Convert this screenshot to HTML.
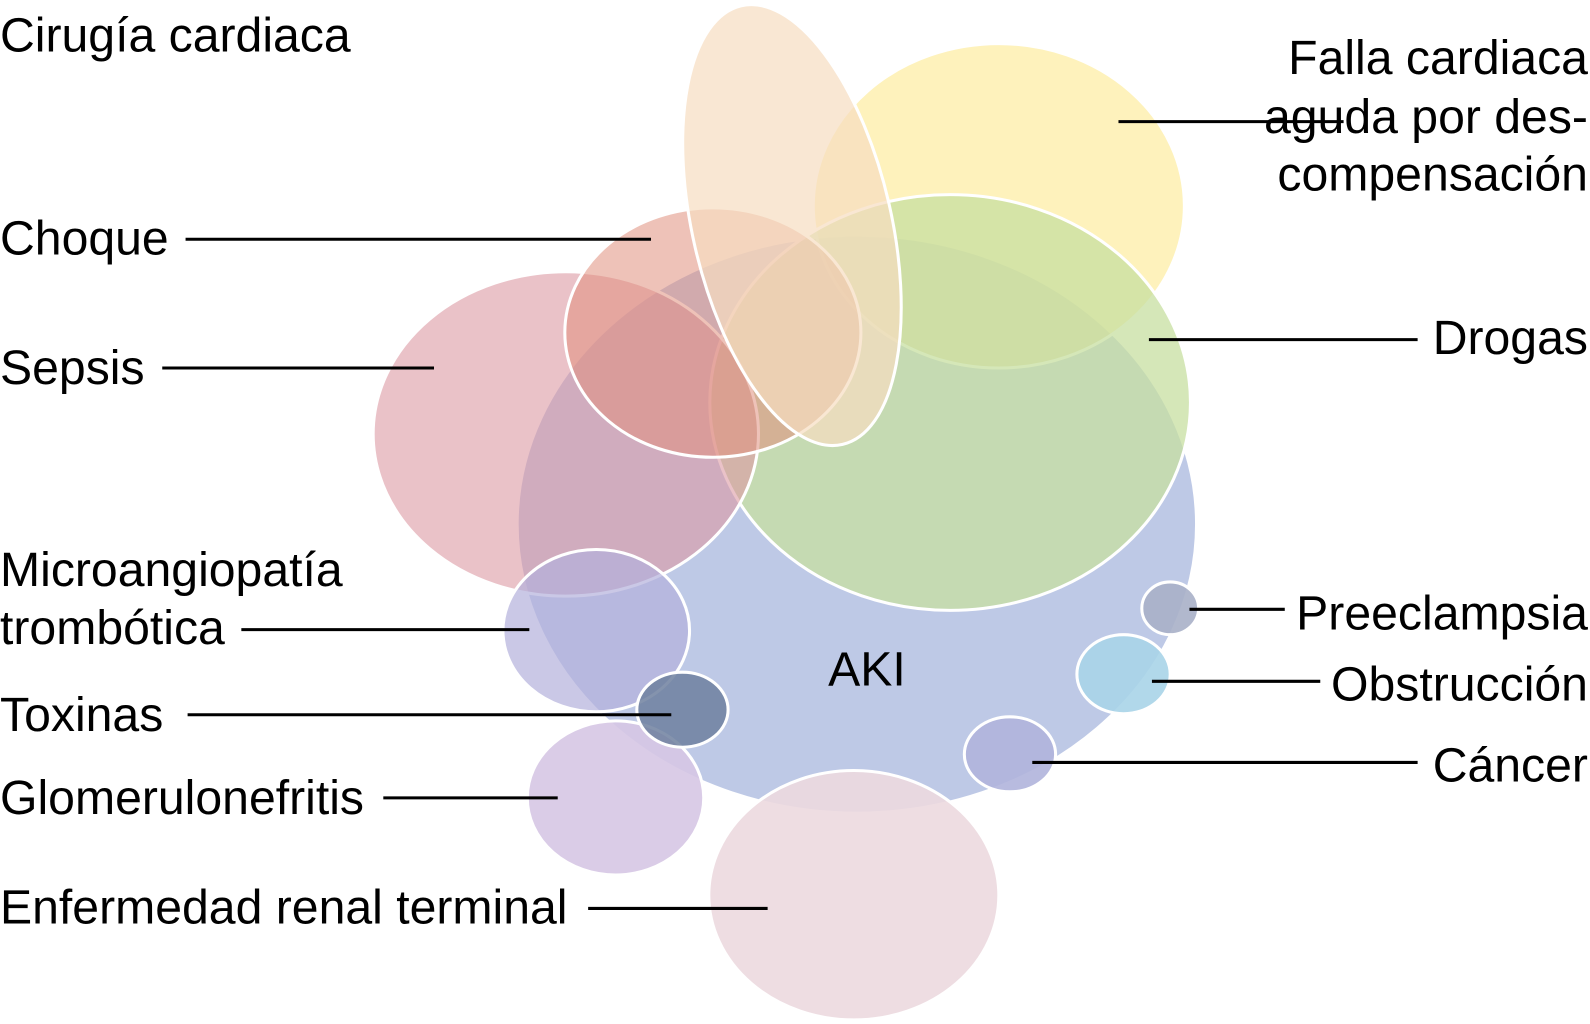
<!DOCTYPE html>
<html><head><meta charset="utf-8"><style>html,body{margin:0;padding:0;background:#fff}svg{display:block}text{font-family:"Liberation Sans",Arial,sans-serif;font-size:47.5px;fill:#000}</style></head>
<body>
<svg width="1590" height="1024" viewBox="0 0 1568 1010" preserveAspectRatio="none" xmlns="http://www.w3.org/2000/svg">
<g stroke="#fff" stroke-width="3">
<ellipse cx="845" cy="517" rx="335" ry="285" fill="#b7c3e3" fill-opacity="0.9"/>
<ellipse cx="985" cy="203" rx="183" ry="160" fill="#fde98f" fill-opacity="0.6"/>
<ellipse cx="937" cy="397" rx="237" ry="205" fill="#c7dfa0" fill-opacity="0.75"/>
<ellipse cx="558" cy="428" rx="190" ry="160" fill="#dc9aa3" fill-opacity="0.6"/>
<ellipse cx="703" cy="328" rx="146" ry="123" fill="#e0907e" fill-opacity="0.55"/>
<ellipse cx="781" cy="222" rx="98" ry="222" transform="rotate(-13 781 222)" fill="#f6ddc0" fill-opacity="0.7"/>
<ellipse cx="588" cy="622" rx="92" ry="80" fill="#b3b0dc" fill-opacity="0.7"/>
<ellipse cx="607" cy="787" rx="87" ry="76" fill="#d6c6e4" fill-opacity="0.9"/>
<ellipse cx="842" cy="883" rx="143" ry="123" fill="#ecd9df" fill-opacity="0.9"/>
<ellipse cx="673" cy="700" rx="45" ry="37" fill="#6f809f" fill-opacity="0.85"/>
<ellipse cx="1154" cy="600" rx="28" ry="26" fill="#a8b0c8" fill-opacity="0.9"/>
<ellipse cx="1108" cy="665" rx="46" ry="39" fill="#a8d4e8" fill-opacity="0.9"/>
<ellipse cx="996" cy="744" rx="45" ry="37" fill="#b0b4dc" fill-opacity="0.9"/>
</g>
<g stroke="#000" stroke-width="3">
<line x1="183" y1="236" x2="642" y2="236"/>
<line x1="160" y1="363" x2="428" y2="363"/>
<line x1="238" y1="621" x2="522" y2="621"/>
<line x1="185" y1="705" x2="662" y2="705"/>
<line x1="378" y1="787" x2="550" y2="787"/>
<line x1="580" y1="896" x2="757" y2="896"/>
<line x1="1103" y1="120" x2="1325" y2="120"/>
<line x1="1133" y1="335" x2="1398" y2="335"/>
<line x1="1173" y1="601" x2="1267" y2="601"/>
<line x1="1136" y1="672" x2="1302" y2="672"/>
<line x1="1018" y1="752" x2="1398" y2="752"/>
</g>
<text x="0" y="51">Cirugía cardiaca</text>
<text x="0" y="251">Choque</text>
<text x="0" y="379">Sepsis</text>
<text x="0" y="578">Microangiopatía</text>
<text x="0" y="635">trombótica</text>
<text x="0" y="721">Toxinas</text>
<text x="0" y="803">Glomerulonefritis</text>
<text x="0" y="911">Enfermedad renal terminal</text>
<g text-anchor="end">
<text x="1566" y="73">Falla cardiaca</text>
<text x="1566" y="131">aguda por des-</text>
<text x="1566" y="188">compensación</text>
<text x="1566" y="349">Drogas</text>
<text x="1566" y="621">Preeclampsia</text>
<text x="1566" y="691">Obstrucción</text>
<text x="1566" y="771">Cáncer</text>
</g>
<text x="855" y="676" text-anchor="middle">AKI</text>
</svg>
</body></html>
